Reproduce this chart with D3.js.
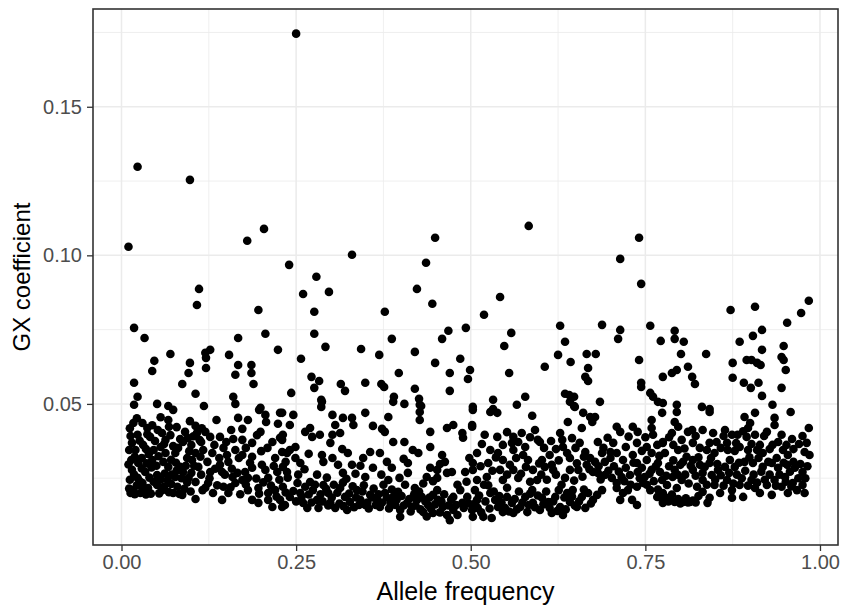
<!DOCTYPE html>
<html>
<head>
<meta charset="utf-8">
<script src="https://cdn.jsdelivr.net/npm/d3@7"></script>
<style>
  body { margin: 0; background: #fff; }
  text { font-family: "Liberation Sans", Arial, sans-serif; }
</style>
</head>
<body>
<div id="chart"></div>
<script>
// GX coefficient vs allele frequency - scatter
// points are [allele frequency, GX coefficient], grouped by frequency range
const pointsQ1 = [
  [0.023,0.1298],[0.098,0.1254],[0.010,0.1029],[0.180,0.1049],[0.204,0.1089],[0.240,0.0968],
  [0.111,0.0887],[0.108,0.0833],[0.196,0.0816],[0.018,0.0756],[0.033,0.0722],[0.167,0.0722],[0.206,0.0736],[0.224,0.0682],
  [0.070,0.0668],[0.047,0.0645],[0.044,0.0611],[0.098,0.0638],[0.096,0.0604],[0.087,0.0567],[0.120,0.0672],[0.127,0.0682],
  [0.121,0.0655],[0.121,0.0621],[0.154,0.0665],[0.167,0.0631],[0.163,0.0598],[0.186,0.0631],[0.186,0.0604],[0.189,0.0567],
  [0.018,0.0571],[0.106,0.0534],[0.023,0.0524],[0.018,0.0497],[0.051,0.0500],[0.067,0.0493],[0.118,0.0493],[0.160,0.0524],
  [0.163,0.0500],[0.199,0.0487],[0.243,0.0537],
  [0.074,0.0480],[0.197,0.0480],[0.206,0.0463],[0.227,0.0470],[0.017,0.0436],[0.030,0.0436],[0.037,0.0419],[0.067,0.0446],
  [0.068,0.0423],[0.106,0.0426],[0.091,0.0406],[0.136,0.0446],[0.167,0.0453],[0.181,0.0446],[0.207,0.0439],[0.224,0.0433],
  [0.173,0.0416],[0.157,0.0412],[0.199,0.0406],[0.023,0.0396],[0.041,0.0389],[0.058,0.0402],[0.063,0.0379],[0.084,0.0382],
  [0.108,0.0402],[0.120,0.0406],[0.127,0.0389],[0.141,0.0389],[0.160,0.0382],[0.173,0.0379],[0.187,0.0369],[0.227,0.0386],
  [0.015,0.0369],[0.020,0.0345],[0.031,0.0362],[0.046,0.0345],[0.056,0.0355],[0.077,0.0335],[0.100,0.0362],[0.106,0.0335],
  [0.117,0.0345],[0.130,0.0335],[0.146,0.0352],[0.151,0.0328],[0.173,0.0328],[0.187,0.0322],[0.209,0.0352],[0.230,0.0338],
  [0.014,0.0311],[0.024,0.0301],[0.044,0.0311],[0.060,0.0305],[0.067,0.0288],[0.084,0.0288],[0.088,0.0271],[0.101,0.0311],
  [0.110,0.0288],[0.123,0.0305],[0.127,0.0271],[0.141,0.0295],[0.144,0.0271],[0.153,0.0305],[0.159,0.0254],[0.177,0.0271],
  [0.187,0.0285],[0.206,0.0278],[0.223,0.0271],[0.210,0.0251],[0.015,0.0278],[0.023,0.0251],[0.034,0.0271],[0.051,0.0261],
  [0.030,0.0234],[0.017,0.0210],[0.013,0.0200],[0.027,0.0200],[0.038,0.0217],[0.051,0.0227],[0.058,0.0210],[0.074,0.0200],
  [0.087,0.0194],[0.066,0.0244],[0.077,0.0254],[0.096,0.0251],[0.106,0.0237],[0.116,0.0210],[0.124,0.0234],[0.131,0.0200],
  [0.106,0.0180],[0.146,0.0221],[0.144,0.0177],[0.153,0.0200],[0.163,0.0234],[0.173,0.0244],[0.181,0.0251],[0.181,0.0210],
  [0.187,0.0177],[0.196,0.0217],[0.196,0.0167],[0.210,0.0200],[0.210,0.0177],[0.220,0.0210],[0.227,0.0177],[0.230,0.0153],
  [0.216,0.0153],[0.230,0.0470],[0.231,0.0396],[0.230,0.0379],[0.237,0.0335],[0.231,0.0288],[0.237,0.0271],[0.231,0.0221],
  [0.234,0.0160],[0.241,0.0429],[0.241,0.0187],[0.241,0.0345]
];
const fillQ1 = [
  [0.011,0.0215],[0.019,0.0196],[0.022,0.0226],[0.031,0.0214],[0.035,0.0195],[0.042,0.0198],[0.046,0.0238],[0.054,0.0199],
  [0.061,0.0222],[0.068,0.0203],[0.071,0.0231],[0.080,0.0221],[0.083,0.0197],[0.090,0.0214],[0.094,0.0236],[0.099,0.0205],
  [0.012,0.0245],[0.018,0.0262],[0.026,0.0240],[0.029,0.0283],[0.040,0.0252],[0.043,0.0286],[0.056,0.0246],[0.062,0.0266],
  [0.072,0.0262],[0.079,0.0276],[0.086,0.0250],[0.092,0.0292],[0.100,0.0268],[0.104,0.0292],
  [0.010,0.0296],[0.019,0.0322],[0.029,0.0318],[0.036,0.0300],[0.039,0.0331],[0.050,0.0292],[0.053,0.0324],[0.063,0.0335],
  [0.071,0.0312],[0.078,0.0302],[0.081,0.0352],[0.094,0.0318],[0.097,0.0341],[0.113,0.0322],
  [0.011,0.0345],[0.013,0.0392],[0.026,0.0376],[0.035,0.0348],[0.037,0.0398],[0.048,0.0375],[0.052,0.0412],[0.061,0.0365],
  [0.070,0.0395],[0.074,0.0358],[0.088,0.0372],[0.095,0.0385],[0.103,0.0391],[0.114,0.0372],
  [0.012,0.0418],[0.022,0.0452],[0.044,0.0428],[0.056,0.0455],[0.079,0.0422],[0.098,0.0442],[0.115,0.0418],
  [0.114,0.0262],[0.120,0.0218],[0.126,0.0250],[0.134,0.0282],[0.137,0.0226],[0.140,0.0318],[0.148,0.0262],[0.156,0.0219],
  [0.158,0.0282],[0.166,0.0268],[0.168,0.0318],[0.170,0.0196],[0.178,0.0229],[0.184,0.0302],[0.193,0.0249],[0.197,0.0198],
  [0.201,0.0295],[0.203,0.0236],[0.214,0.0225],[0.218,0.0291],[0.222,0.0188],[0.226,0.0245],[0.235,0.0202],[0.238,0.0252],
  [0.112,0.0378],[0.133,0.0362],[0.150,0.0372],[0.163,0.0345],[0.178,0.0352],[0.194,0.0395],[0.200,0.0341],[0.216,0.0372],
  [0.220,0.0318],[0.235,0.0305]
];
const pointsQ2 = [
  [0.250,0.1746],[0.279,0.0928],[0.330,0.1002],[0.436,0.0975],[0.449,0.1059],
  [0.260,0.0870],[0.297,0.0877],[0.276,0.0810],[0.377,0.0810],[0.423,0.0887],[0.445,0.0837],[0.276,0.0736],[0.292,0.0692],
  [0.257,0.0652],[0.343,0.0685],[0.369,0.0665],[0.387,0.0719],[0.420,0.0675],[0.459,0.0719],[0.468,0.0746],[0.493,0.0756],
  [0.449,0.0638],[0.485,0.0652],[0.499,0.0614],[0.470,0.0604],[0.496,0.0584],[0.397,0.0604],[0.272,0.0591],[0.283,0.0577],
  [0.276,0.0554],[0.314,0.0567],[0.320,0.0544],[0.349,0.0571],[0.372,0.0567],[0.376,0.0557],[0.420,0.0551],[0.470,0.0544],
  [0.390,0.0524],[0.405,0.0500],[0.426,0.0517],[0.429,0.0493],[0.286,0.0514],[0.286,0.0490],
  [0.246,0.0463],[0.287,0.0507],[0.302,0.0463],[0.317,0.0453],[0.330,0.0453],[0.332,0.0429],[0.306,0.0429],[0.349,0.0470],
  [0.360,0.0426],[0.373,0.0416],[0.377,0.0406],[0.382,0.0456],[0.389,0.0507],[0.427,0.0497],[0.427,0.0473],[0.427,0.0446],
  [0.442,0.0406],[0.466,0.0419],[0.475,0.0429],[0.488,0.0402],[0.489,0.0386],[0.502,0.0423],[0.503,0.0480],[0.263,0.0406],
  [0.270,0.0419],[0.273,0.0389],[0.284,0.0396],[0.302,0.0396],[0.299,0.0369],[0.313,0.0402],[0.389,0.0372],[0.405,0.0372],
  [0.442,0.0355],[0.417,0.0345],[0.425,0.0335],[0.249,0.0355],[0.249,0.0318],[0.287,0.0328],[0.289,0.0305],[0.316,0.0348],
  [0.324,0.0335],[0.346,0.0318],[0.356,0.0338],[0.370,0.0335],[0.380,0.0305],[0.387,0.0285],[0.410,0.0301],[0.410,0.0268],
  [0.459,0.0328],[0.463,0.0305],[0.310,0.0295],[0.330,0.0295],[0.256,0.0301],[0.442,0.0285],[0.452,0.0278],[0.437,0.0254],
  [0.452,0.0251],[0.466,0.0268],[0.473,0.0271],[0.492,0.0271],[0.503,0.0278],[0.317,0.0268],[0.349,0.0254],[0.382,0.0244],
  [0.420,0.0217],[0.252,0.0234],[0.256,0.0200],[0.260,0.0167],[0.270,0.0237],[0.274,0.0210],[0.280,0.0177],[0.282,0.0150],
  [0.289,0.0227],[0.296,0.0200],[0.299,0.0167],[0.306,0.0150],[0.313,0.0217],[0.320,0.0187],[0.323,0.0143],[0.327,0.0170],
  [0.337,0.0210],[0.342,0.0177],[0.349,0.0160],[0.356,0.0194],[0.366,0.0177],[0.370,0.0153],[0.377,0.0200],[0.385,0.0167],
  [0.389,0.0187],[0.396,0.0204],[0.399,0.0143],[0.399,0.0120],[0.409,0.0167],[0.416,0.0153],[0.423,0.0177],[0.430,0.0187],
  [0.432,0.0136],[0.439,0.0160],[0.446,0.0194],[0.446,0.0133],[0.453,0.0177],[0.460,0.0153],[0.466,0.0126],[0.470,0.0109],
  [0.475,0.0187],[0.475,0.0143],[0.485,0.0210],[0.488,0.0167],[0.495,0.0187],[0.502,0.0143],[0.503,0.0120]
];
const fillQ2 = [
  [0.246,0.0207],[0.250,0.0172],[0.253,0.0262],[0.258,0.0188],[0.263,0.0221],[0.266,0.0150],[0.268,0.0195],[0.272,0.0168],
  [0.277,0.0228],[0.285,0.0196],[0.288,0.0172],[0.293,0.0214],[0.296,0.0158],[0.301,0.0185],[0.304,0.0228],[0.309,0.0201],
  [0.312,0.0165],[0.317,0.0235],[0.318,0.0156],[0.326,0.0198],[0.331,0.0223],[0.333,0.0152],[0.336,0.0185],[0.340,0.0160],
  [0.345,0.0205],[0.347,0.0226],[0.352,0.0168],[0.354,0.0148],[0.359,0.0185],[0.361,0.0215],[0.364,0.0160],[0.368,0.0196],
  [0.373,0.0168],[0.375,0.0228],[0.380,0.0185],[0.383,0.0148],[0.387,0.0212],[0.392,0.0160],[0.394,0.0178],[0.401,0.0190],
  [0.404,0.0158],[0.406,0.0228],[0.412,0.0180],[0.414,0.0138],[0.419,0.0196],[0.421,0.0158],[0.426,0.0205],[0.428,0.0145],
  [0.435,0.0172],[0.437,0.0121],[0.441,0.0185],[0.443,0.0148],[0.449,0.0162],[0.452,0.0210],[0.456,0.0135],[0.458,0.0172],
  [0.462,0.0196],[0.468,0.0158],[0.472,0.0178],[0.479,0.0160],[0.481,0.0126],[0.490,0.0150],[0.497,0.0165],
  [0.262,0.0280],[0.268,0.0332],[0.280,0.0262],[0.294,0.0252],[0.302,0.0318],[0.322,0.0248],[0.335,0.0265],[0.342,0.0292],
  [0.360,0.0285],[0.372,0.0262],[0.398,0.0251],[0.404,0.0315],[0.432,0.0232],[0.446,0.0240],[0.456,0.0298],[0.481,0.0228],
  [0.494,0.0238],[0.498,0.0318]
];
const pointsQ3 = [
  [0.583,0.1099],[0.741,0.1059],[0.714,0.0988],
  [0.744,0.0904],[0.542,0.0860],[0.519,0.0800],[0.628,0.0763],[0.688,0.0766],[0.714,0.0749],[0.757,0.0763],[0.711,0.0719],
  [0.772,0.0712],[0.558,0.0739],[0.548,0.0695],[0.635,0.0709],[0.625,0.0665],[0.643,0.0641],[0.666,0.0668],[0.679,0.0668],
  [0.668,0.0621],[0.664,0.0591],[0.668,0.0577],[0.606,0.0625],[0.555,0.0604],[0.741,0.0648],[0.744,0.0571],[0.744,0.0557],
  [0.775,0.0591],[0.757,0.0537],[0.761,0.0524],[0.768,0.0507],[0.775,0.0503],[0.635,0.0534],[0.641,0.0530],[0.648,0.0524],
  [0.648,0.0493],[0.685,0.0507],[0.578,0.0524],[0.566,0.0497],[0.532,0.0514],[0.503,0.0490],[0.532,0.0483],
  [0.528,0.0473],[0.538,0.0470],[0.588,0.0460],[0.502,0.0429],[0.642,0.0507],[0.649,0.0490],[0.661,0.0470],[0.671,0.0456],
  [0.678,0.0456],[0.639,0.0439],[0.659,0.0419],[0.674,0.0439],[0.709,0.0423],[0.714,0.0406],[0.732,0.0423],[0.739,0.0406],
  [0.759,0.0446],[0.759,0.0419],[0.761,0.0396],[0.774,0.0470],[0.520,0.0396],[0.538,0.0389],[0.561,0.0389],[0.573,0.0402],
  [0.592,0.0412],[0.596,0.0379],[0.546,0.0362],[0.559,0.0369],[0.578,0.0355],[0.599,0.0372],[0.628,0.0402],[0.631,0.0379],
  [0.632,0.0355],[0.656,0.0369],[0.682,0.0372],[0.696,0.0386],[0.704,0.0369],[0.738,0.0369],[0.752,0.0355],[0.767,0.0362],
  [0.775,0.0369],[0.509,0.0335],[0.503,0.0301],[0.525,0.0301],[0.539,0.0335],[0.546,0.0311],[0.561,0.0345],[0.575,0.0328],
  [0.582,0.0311],[0.602,0.0311],[0.613,0.0328],[0.616,0.0295],[0.638,0.0335],[0.642,0.0318],[0.671,0.0318],[0.678,0.0305],
  [0.688,0.0335],[0.692,0.0305],[0.709,0.0335],[0.718,0.0311],[0.732,0.0328],[0.738,0.0301],[0.752,0.0311],[0.759,0.0335],
  [0.768,0.0301],[0.509,0.0244],[0.506,0.0210],[0.523,0.0254],[0.542,0.0278],[0.546,0.0244],[0.561,0.0278],[0.568,0.0251],
  [0.589,0.0278],[0.595,0.0244],[0.606,0.0288],[0.618,0.0278],[0.635,0.0251],[0.642,0.0278],[0.654,0.0278],[0.666,0.0295],
  [0.675,0.0271],[0.682,0.0268],[0.692,0.0261],[0.702,0.0251],[0.709,0.0234],[0.716,0.0254],[0.728,0.0261],[0.739,0.0271],
  [0.749,0.0254],[0.759,0.0278],[0.771,0.0271],[0.774,0.0244],[0.509,0.0177],[0.510,0.0150],[0.518,0.0120],[0.530,0.0116],
  [0.528,0.0200],[0.535,0.0177],[0.539,0.0153],[0.546,0.0136],[0.552,0.0187],[0.559,0.0167],[0.561,0.0133],[0.571,0.0153],
  [0.578,0.0187],[0.581,0.0136],[0.588,0.0210],[0.589,0.0167],[0.599,0.0143],[0.602,0.0184],[0.611,0.0170],[0.616,0.0133],
  [0.621,0.0187],[0.628,0.0153],[0.632,0.0126],[0.638,0.0200],[0.642,0.0170],[0.646,0.0210],[0.652,0.0153],[0.659,0.0187],
  [0.664,0.0150],[0.668,0.0200],[0.675,0.0177],[0.681,0.0194],[0.688,0.0210],[0.709,0.0217],[0.718,0.0200],[0.714,0.0177],
  [0.725,0.0210],[0.731,0.0177],[0.738,0.0160],[0.738,0.0221],[0.747,0.0234],[0.757,0.0210],[0.767,0.0187],[0.775,0.0177]
];
const fillQ3 = [
  [0.506,0.0165],[0.512,0.0192],[0.515,0.0135],[0.521,0.0172],[0.525,0.0226],[0.527,0.0148],[0.533,0.0205],[0.541,0.0190],
  [0.544,0.0168],[0.549,0.0150],[0.552,0.0218],[0.555,0.0138],[0.563,0.0180],[0.566,0.0145],[0.569,0.0205],[0.574,0.0168],
  [0.583,0.0160],[0.585,0.0198],[0.592,0.0152],[0.596,0.0192],[0.604,0.0162],[0.608,0.0205],[0.613,0.0150],[0.618,0.0172],
  [0.624,0.0140],[0.626,0.0210],[0.634,0.0185],[0.636,0.0145],[0.645,0.0188],[0.649,0.0158],[0.655,0.0172],[0.662,0.0212],
  [0.672,0.0165],
  [0.514,0.0290],[0.519,0.0228],[0.531,0.0275],[0.536,0.0320],[0.552,0.0262],[0.556,0.0295],[0.565,0.0318],[0.572,0.0265],
  [0.579,0.0288],[0.585,0.0238],[0.598,0.0300],[0.601,0.0262],[0.609,0.0245],[0.622,0.0262],[0.626,0.0310],[0.630,0.0228],
  [0.648,0.0242],[0.652,0.0300],[0.660,0.0255],[0.662,0.0322],[0.670,0.0280],[0.683,0.0290],[0.686,0.0246],[0.697,0.0275],
  [0.700,0.0318],[0.705,0.0290],[0.712,0.0272],[0.720,0.0240],[0.722,0.0285],[0.729,0.0228],[0.733,0.0302],[0.742,0.0250],
  [0.745,0.0285],[0.752,0.0228],[0.756,0.0265],[0.762,0.0240],[0.765,0.0290],[0.768,0.0212],
  [0.516,0.0365],[0.528,0.0345],[0.552,0.0405],[0.568,0.0372],[0.585,0.0388],[0.605,0.0352],[0.615,0.0375],[0.622,0.0348],
  [0.645,0.0385],[0.650,0.0352],[0.664,0.0338],[0.690,0.0352],[0.700,0.0338],[0.722,0.0355],[0.726,0.0390],[0.745,0.0342],
  [0.750,0.0388],[0.770,0.0325]
];
const pointsQ4 = [
  [0.984,0.0847],[0.973,0.0806],[0.953,0.0773],[0.907,0.0827],[0.872,0.0816],[0.917,0.0749],[0.904,0.0729],[0.885,0.0709],
  [0.917,0.0682],[0.948,0.0695],[0.945,0.0658],[0.948,0.0648],[0.951,0.0614],[0.945,0.0554],[0.875,0.0638],[0.895,0.0648],
  [0.902,0.0648],[0.910,0.0638],[0.915,0.0631],[0.875,0.0588],[0.891,0.0571],[0.901,0.0554],[0.912,0.0571],[0.917,0.0527],
  [0.932,0.0497],[0.792,0.0746],[0.792,0.0719],[0.805,0.0709],[0.801,0.0668],[0.837,0.0668],[0.811,0.0625],[0.795,0.0614],
  [0.788,0.0604],[0.817,0.0591],[0.821,0.0567],[0.795,0.0497],[0.831,0.0490],[0.842,0.0483],
  [0.795,0.0473],[0.792,0.0439],[0.797,0.0423],[0.842,0.0473],[0.892,0.0456],[0.907,0.0470],[0.900,0.0436],[0.897,0.0419],
  [0.935,0.0453],[0.935,0.0429],[0.958,0.0473],[0.984,0.0419],[0.788,0.0402],[0.802,0.0379],[0.811,0.0406],[0.817,0.0412],
  [0.832,0.0412],[0.847,0.0402],[0.864,0.0412],[0.874,0.0396],[0.882,0.0396],[0.895,0.0389],[0.907,0.0396],[0.924,0.0406],
  [0.945,0.0396],[0.960,0.0382],[0.981,0.0369],[0.775,0.0372],[0.778,0.0335],[0.818,0.0369],[0.828,0.0352],[0.842,0.0369],
  [0.849,0.0335],[0.867,0.0369],[0.868,0.0345],[0.885,0.0355],[0.897,0.0345],[0.914,0.0362],[0.918,0.0335],[0.932,0.0362],
  [0.947,0.0345],[0.954,0.0328],[0.978,0.0338],[0.985,0.0328],[0.797,0.0345],[0.809,0.0322],[0.804,0.0305],[0.818,0.0311],
  [0.828,0.0295],[0.842,0.0301],[0.854,0.0278],[0.871,0.0311],[0.878,0.0288],[0.892,0.0305],[0.904,0.0301],[0.918,0.0288],
  [0.931,0.0301],[0.940,0.0285],[0.953,0.0295],[0.964,0.0285],[0.975,0.0271],[0.792,0.0278],[0.818,0.0278],[0.832,0.0268],
  [0.845,0.0261],[0.789,0.0254],[0.802,0.0244],[0.781,0.0227],[0.795,0.0217],[0.775,0.0200],[0.785,0.0184],[0.775,0.0167],
  [0.792,0.0170],[0.804,0.0170],[0.814,0.0170],[0.832,0.0204],[0.842,0.0184],[0.839,0.0167],[0.849,0.0227],[0.857,0.0200],
  [0.867,0.0244],[0.874,0.0210],[0.874,0.0184],[0.885,0.0227],[0.890,0.0187],[0.902,0.0244],[0.907,0.0217],[0.914,0.0200],
  [0.924,0.0227],[0.931,0.0194],[0.935,0.0244],[0.945,0.0221],[0.950,0.0254],[0.954,0.0200],[0.961,0.0234],[0.967,0.0210],
  [0.975,0.0227],[0.978,0.0200],[0.832,0.0244],[0.824,0.0221]
];
const fillQ4 = [
  [0.779,0.0185],[0.783,0.0172],[0.788,0.0195],[0.797,0.0180],[0.800,0.0165],[0.808,0.0182],[0.811,0.0168],[0.818,0.0175],
  [0.822,0.0168],[0.826,0.0190],
  [0.780,0.0258],[0.784,0.0290],[0.790,0.0310],[0.796,0.0262],[0.800,0.0295],[0.807,0.0262],[0.812,0.0232],[0.815,0.0292],
  [0.822,0.0258],[0.826,0.0320],[0.835,0.0288],[0.838,0.0228],[0.844,0.0318],[0.850,0.0245],[0.853,0.0298],[0.858,0.0260],
  [0.862,0.0225],[0.864,0.0288],[0.870,0.0268],[0.876,0.0232],[0.881,0.0262],[0.884,0.0302],[0.888,0.0250],[0.893,0.0275],
  [0.897,0.0225],[0.899,0.0320],[0.905,0.0262],[0.910,0.0235],[0.912,0.0318],[0.916,0.0272],[0.921,0.0245],[0.926,0.0305],
  [0.928,0.0262],[0.937,0.0225],[0.938,0.0318],[0.942,0.0262],[0.948,0.0302],[0.951,0.0238],[0.957,0.0272],[0.959,0.0222],
  [0.962,0.0305],[0.969,0.0250],[0.972,0.0298],[0.979,0.0250],[0.982,0.0290],
  [0.784,0.0388],[0.790,0.0362],[0.806,0.0350],[0.822,0.0392],[0.838,0.0345],[0.852,0.0372],[0.858,0.0352],[0.862,0.0392],
  [0.878,0.0342],[0.880,0.0368],[0.890,0.0408],[0.902,0.0365],[0.910,0.0345],[0.920,0.0392],[0.928,0.0348],[0.940,0.0372],
  [0.952,0.0362],[0.962,0.0348],[0.970,0.0365],[0.975,0.0392]
];

const xTicks = [0, 0.25, 0.5, 0.75, 1];
const yTicks = [0.05, 0.10, 0.15];
const xMinor = [0.125, 0.375, 0.625, 0.875];
const yMinor = [0.025, 0.075, 0.125, 0.175];

(() => {
const points = pointsQ1.concat(fillQ1, pointsQ2, fillQ2, pointsQ3, fillQ3, pointsQ4, fillQ4);

const svg = d3.select("#chart")
  .append("svg")
  .attr("width", 843)
  .attr("height", 607);

// panel edges in pixels
const pLeft = 93, pRight = 838, pTop = 9, pBottom = 545;

const x = d3.scaleLinear().domain([-0.0408, 1.0258]).range([pLeft, pRight]);
const y = d3.scaleLinear().domain([0.00252, 0.1829]).range([pBottom, pTop]);

// grid
const grid = svg.append("g");
grid.selectAll(".ymin").data(yMinor).join("line")
  .attr("x1", pLeft).attr("x2", pRight)
  .attr("y1", d => y(d)).attr("y2", d => y(d))
  .attr("stroke", "#ebebeb").attr("stroke-width", 0.8);
grid.selectAll(".xmin").data(xMinor).join("line")
  .attr("y1", pTop).attr("y2", pBottom)
  .attr("x1", d => x(d)).attr("x2", d => x(d))
  .attr("stroke", "#ebebeb").attr("stroke-width", 0.8);
grid.selectAll(".ymaj").data(yTicks).join("line")
  .attr("x1", pLeft).attr("x2", pRight)
  .attr("y1", d => y(d)).attr("y2", d => y(d))
  .attr("stroke", "#ebebeb").attr("stroke-width", 1.5);
grid.selectAll(".xmaj").data(xTicks).join("line")
  .attr("y1", pTop).attr("y2", pBottom)
  .attr("x1", d => x(d)).attr("x2", d => x(d))
  .attr("stroke", "#ebebeb").attr("stroke-width", 1.5);

// points
svg.append("g")
  .selectAll("circle")
  .data(points)
  .join("circle")
  .attr("cx", d => x(d[0]))
  .attr("cy", d => y(d[1]))
  .attr("r", 4.3)
  .attr("fill", "#000");

// panel border
svg.append("rect")
  .attr("x", pLeft).attr("y", pTop)
  .attr("width", pRight - pLeft).attr("height", pBottom - pTop)
  .attr("fill", "none")
  .attr("stroke", "#333")
  .attr("stroke-width", 1.6);

// axes
const xAxis = svg.append("g")
  .attr("transform", `translate(0,${pBottom})`)
  .call(d3.axisBottom(x).tickValues(xTicks).tickFormat(d3.format(".2f")).tickSize(6).tickPadding(4));
const yAxis = svg.append("g")
  .attr("transform", `translate(${pLeft},0)`)
  .call(d3.axisLeft(y).tickValues(yTicks).tickFormat(d3.format(".2f")).tickSize(6).tickPadding(5));

[xAxis, yAxis].forEach(a => {
  a.select(".domain").remove();
  a.selectAll(".tick line").attr("stroke", "#333").attr("stroke-width", 1.3);
  a.selectAll(".tick text")
    .attr("fill", "#4d4d4d")
    .style("font-size", "20px")
    .style("font-family", "'Liberation Sans', Arial, sans-serif");
});

// axis titles
svg.append("text")
  .attr("x", (pLeft + pRight) / 2)
  .attr("y", 600)
  .attr("text-anchor", "middle")
  .style("font-size", "25px")
  .attr("fill", "#000")
  .text("Allele frequency");

svg.append("text")
  .attr("transform", `translate(30,${(pTop + pBottom) / 2}) rotate(-90)`)
  .attr("text-anchor", "middle")
  .style("font-size", "24px")
  .attr("fill", "#000")
  .text("GX coefficient");
})();
</script>
</body>
</html>
